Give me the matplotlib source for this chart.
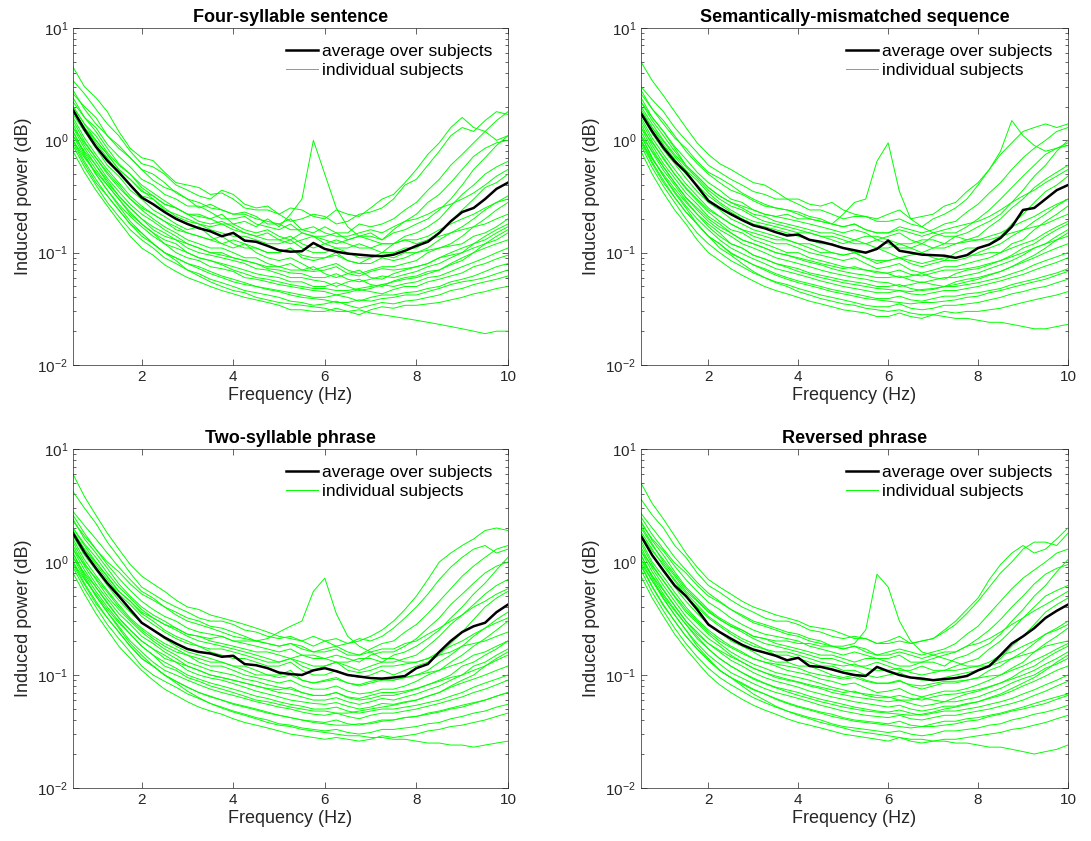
import matplotlib.pyplot as plt
from matplotlib.lines import Line2D
from matplotlib.ticker import LogLocator, NullFormatter

plt.rcParams['font.family'] = ['Liberation Sans', 'DejaVu Sans']
plt.rcParams['mathtext.fontset'] = 'custom'
plt.rcParams['mathtext.rm'] = 'Liberation Sans'

# frequency bins (Hz), 0.25 Hz steps
freqs = [0.5, 0.75, 1.0, 1.25, 1.5, 1.75, 2.0, 2.25, 2.5, 2.75, 3.0, 3.25, 3.5,
         3.75, 4.0, 4.25, 4.5, 4.75, 5.0, 5.25, 5.5, 5.75, 6.0, 6.25, 6.5, 6.75,
         7.0, 7.25, 7.5, 7.75, 8.0, 8.25, 8.5, 8.75, 9.0, 9.25, 9.5, 9.75, 10.0]

titles = ['Four-syllable sentence', 'Semantically-mismatched sequence',
          'Two-syllable phrase', 'Reversed phrase']

# average over subjects
mean_four = [1.86, 1.25, .88, .66, .52, .40, .31, .27, .23, .20, .18, .165, .155, .14,
             .15, .128, .125, .115, .105, .102, .103, .122, .108, .102, .098, .096, .094,
             .093, .096, .104, .115, .125, .15, .19, .23, .25, .30, .37, .42]
mean_sem = [1.74, 1.20, .86, .65, .52, .39, .29, .25, .22, .195, .175, .165, .152, .142,
            .145, .13, .125, .118, .11, .105, .10, .108, .128, .104, .10, .096, .095,
            .094, .090, .095, .11, .118, .135, .17, .24, .25, .30, .36, .40]
mean_two = [1.80, 1.22, .88, .65, .50, .38, .29, .25, .215, .19, .17, .16, .155, .145,
            .148, .125, .122, .115, .105, .102, .10, .11, .115, .108, .10, .097, .094,
            .093, .095, .098, .115, .125, .16, .20, .24, .27, .29, .36, .42]
mean_rev = [1.70, 1.15, .84, .62, .50, .38, .28, .24, .21, .185, .168, .158, .148, .135,
            .142, .12, .118, .112, .105, .10, .098, .118, .108, .10, .095, .093, .09,
            .092, .094, .098, .11, .12, .15, .19, .22, .26, .32, .37, .42]

# individual subjects
subj_four = [
    [4.5, 3.0, 2.4, 1.8, 1.2, .85, .70, .66, .52, .42, .40, .38, .33, .34, .30, .25, .24, .24, .22, .19, .20, .22, .21, .18, .19, .22, .23, .25, .30, .40, .45, .60, .80, 1.1, 1.3, 1.2, 1.5, 1.8, 1.7],
    [3.4, 2.6, 1.9, 1.4, 1.1, .80, .62, .58, .50, .40, .36, .32, .30, .36, .33, .27, .25, .26, .22, .25, .24, .21, .20, .24, .22, .21, .25, .30, .33, .42, .55, .75, .95, 1.3, 1.6, 1.3, 1.2, 1.0, 1.1],
    [2.6, 2.0, 1.6, 1.1, .85, .70, .55, .44, .38, .35, .30, .25, .27, .24, .22, .23, .21, .18, .18, .20, .16, .15, .17, .15, .15, .18, .17, .18, .20, .24, .28, .36, .45, .60, .75, .95, 1.2, 1.5, 1.8],
    [2.2, 1.6, 1.3, .92, .72, .58, .45, .40, .33, .30, .26, .26, .23, .20, .20, .21, .18, .17, .16, .18, .15, .14, .14, .15, .13, .14, .15, .13, .16, .19, .22, .28, .33, .42, .55, .72, .85, .95, 1.0],
    [2.0, 1.4, 1.1, .78, .60, .50, .38, .32, .27, .25, .22, .19, .18, .19, .17, .15, .14, .15, .13, .12, .13, .14, .12, .11, .11, .12, .11, .10, .12, .14, .15, .17, .20, .26, .33, .40, .50, .58, .65],
    [1.9, 1.3, .95, .70, .52, .40, .32, .30, .25, .21, .19, .18, .16, .15, .14, .14, .13, .12, .12, .13, .11, .10, .10, .11, .10, .09, .09, .10, .10, .11, .11, .13, .15, .19, .24, .30, .38, .42, .50],
    [1.7, 1.2, .85, .60, .48, .36, .30, .24, .21, .18, .16, .17, .14, .12, .13, .12, .11, .10, .10, .11, .09, .085, .09, .10, .085, .08, .08, .09, .085, .09, .10, .11, .13, .15, .17, .20, .24, .28, .32],
    [1.6, 1.05, .75, .55, .42, .32, .26, .22, .19, .16, .15, .14, .13, .12, .11, .12, .10, .09, .085, .09, .08, .07, .075, .08, .07, .065, .07, .075, .075, .08, .085, .10, .11, .12, .14, .17, .20, .24, .28],
    [1.5, .98, .70, .50, .38, .30, .24, .20, .17, .15, .13, .12, .11, .11, .10, .09, .09, .08, .075, .07, .07, .075, .065, .06, .065, .07, .06, .058, .065, .07, .075, .08, .09, .10, .11, .12, .14, .16, .18],
    [1.4, .90, .65, .46, .35, .27, .22, .19, .16, .14, .12, .11, .10, .095, .09, .085, .08, .072, .07, .066, .065, .06, .06, .065, .058, .055, .058, .062, .06, .064, .068, .075, .08, .09, .10, .11, .12, .13, .15],
    [1.3, .85, .60, .42, .32, .25, .20, .16, .14, .13, .11, .10, .095, .09, .085, .08, .072, .07, .065, .06, .06, .057, .055, .05, .055, .058, .052, .05, .056, .06, .062, .068, .07, .078, .085, .10, .11, .12, .13],
    [1.2, .78, .55, .40, .30, .22, .18, .15, .13, .12, .10, .09, .085, .08, .075, .07, .065, .062, .06, .055, .055, .05, .05, .054, .05, .046, .048, .052, .05, .053, .055, .06, .062, .068, .075, .082, .09, .10, .11],
    [1.1, .72, .50, .36, .27, .21, .17, .14, .12, .10, .09, .085, .075, .072, .068, .06, .058, .055, .052, .05, .048, .046, .045, .042, .044, .047, .045, .043, .047, .05, .05, .055, .058, .062, .066, .075, .08, .088, .095],
    [1.0, .65, .45, .32, .24, .18, .15, .12, .10, .09, .08, .075, .068, .062, .058, .054, .05, .048, .046, .044, .042, .04, .04, .042, .04, .037, .04, .042, .042, .044, .045, .048, .05, .055, .058, .062, .068, .075, .08],
    [.90, .58, .40, .28, .21, .16, .13, .11, .09, .08, .07, .065, .058, .054, .05, .046, .044, .042, .04, .037, .036, .034, .035, .037, .034, .032, .034, .036, .035, .037, .038, .04, .042, .046, .048, .052, .055, .058, .062],
    [.80, .52, .36, .26, .19, .14, .11, .095, .078, .068, .06, .055, .05, .046, .043, .04, .038, .036, .034, .031, .031, .03, .03, .032, .03, .028, .031, .033, .032, .034, .034, .035, .036, .038, .04, .043, .045, .048, .05],
    [1.2, .75, .50, .36, .26, .19, .15, .12, .10, .085, .07, .062, .055, .05, .046, .044, .04, .038, .036, .035, .034, .033, .032, .03, .03, .031, .029, .028, .027, .026, .025, .024, .023, .022, .021, .02, .019, .02, .02],
    [2.8, 1.9, 1.4, 1.1, .90, .70, .55, .50, .42, .34, .30, .28, .25, .24, .22, .22, .20, .19, .18, .16, .16, .17, .15, .14, .14, .15, .16, .15, .17, .19, .20, .22, .25, .27, .30, .34, .40, .48, .55],
    [1.8, 1.3, 1.0, .75, .55, .45, .36, .30, .24, .22, .20, .18, .17, .18, .16, .15, .14, .13, .13, .14, .12, .11, .12, .13, .12, .11, .11, .12, .12, .13, .13, .14, .16, .18, .20, .22, .25, .28, .30],
    [1.3, .95, .70, .52, .40, .30, .25, .22, .19, .17, .15, .14, .13, .14, .12, .11, .11, .10, .10, .11, .095, .09, .09, .095, .085, .08, .09, .095, .09, .10, .10, .105, .11, .115, .12, .14, .15, .17, .20],
    [1.1, .80, .60, .44, .32, .25, .20, .17, .15, .13, .12, .11, .10, .10, .09, .085, .08, .075, .075, .08, .07, .068, .07, .075, .065, .062, .068, .072, .07, .072, .075, .08, .09, .095, .10, .12, .13, .15, .17],
    [2.4, 1.6, 1.2, .85, .62, .50, .40, .34, .29, .25, .22, .22, .20, .18, .18, .16, .15, .16, .14, .13, .15, .14, .13, .12, .13, .14, .14, .13, .15, .16, .18, .20, .24, .30, .40, .55, .70, .90, 1.1],
    [1.0, .70, .52, .40, .30, .23, .18, .15, .12, .11, .10, .09, .085, .078, .07, .065, .06, .058, .055, .052, .05, .048, .048, .046, .046, .048, .05, .052, .055, .058, .06, .065, .07, .08, .09, .10, .12, .14, .16],
    [.95, .62, .42, .32, .24, .18, .14, .12, .10, .09, .08, .072, .065, .06, .055, .052, .05, .047, .045, .042, .04, .039, .038, .036, .036, .038, .037, .039, .04, .042, .042, .045, .048, .052, .055, .057, .06, .065, .07],
]
subj_sem = [
    [5.0, 3.4, 2.5, 1.8, 1.3, .95, .75, .62, .55, .48, .42, .40, .35, .30, .30, .27, .26, .28, .24, .22, .21, .20, .22, .24, .20, .21, .22, .26, .28, .35, .42, .55, .75, .95, 1.2, 1.3, 1.4, 1.3, 1.4],
    [3.0, 2.3, 1.8, 1.3, 1.0, .78, .60, .52, .45, .40, .35, .33, .30, .30, .27, .24, .24, .22, .20, .21, .21, .19, .19, .20, .18, .17, .20, .22, .25, .30, .40, .55, .80, 1.5, 1.1, .90, .80, .85, .90],
    [2.6, 1.9, 1.5, 1.1, .80, .62, .50, .42, .36, .33, .29, .26, .25, .24, .23, .21, .20, .18, .17, .18, .16, .15, .15, .17, .16, .15, .16, .18, .19, .23, .27, .34, .42, .55, .70, .85, 1.0, 1.2, 1.3],
    [2.2, 1.6, 1.2, .88, .68, .52, .42, .36, .30, .28, .24, .22, .21, .20, .19, .18, .17, .16, .15, .16, .15, .13, .14, .15, .13, .12, .14, .15, .15, .17, .20, .24, .30, .38, .48, .60, .75, .85, .95],
    [2.0, 1.4, 1.0, .75, .58, .46, .36, .30, .26, .24, .21, .19, .18, .17, .16, .15, .14, .14, .13, .12, .12, .13, .12, .11, .11, .12, .11, .11, .12, .13, .14, .17, .20, .25, .30, .38, .45, .52, .60],
    [1.9, 1.3, .92, .68, .50, .40, .32, .27, .23, .20, .18, .17, .16, .15, .14, .13, .12, .12, .11, .10, .10, .11, .10, .09, .095, .10, .09, .085, .10, .11, .11, .12, .14, .18, .22, .28, .35, .40, .48],
    [1.7, 1.15, .82, .62, .46, .35, .28, .24, .20, .18, .16, .15, .14, .13, .12, .12, .11, .10, .095, .10, .09, .08, .085, .09, .08, .075, .08, .085, .085, .09, .10, .11, .12, .14, .16, .19, .22, .26, .30],
    [1.6, 1.05, .75, .55, .41, .32, .25, .21, .18, .16, .14, .13, .12, .12, .11, .10, .095, .09, .085, .09, .08, .072, .075, .08, .07, .066, .07, .075, .075, .08, .085, .09, .10, .12, .13, .16, .19, .22, .26],
    [1.5, .98, .68, .50, .37, .29, .23, .19, .16, .15, .13, .12, .11, .10, .10, .09, .085, .08, .075, .072, .07, .068, .065, .06, .062, .065, .06, .058, .065, .07, .072, .078, .085, .095, .11, .12, .14, .16, .18],
    [1.4, .90, .62, .46, .34, .27, .21, .18, .15, .13, .12, .11, .10, .095, .088, .082, .078, .072, .068, .065, .063, .06, .06, .062, .057, .054, .057, .06, .06, .063, .066, .072, .078, .085, .095, .11, .12, .13, .14],
    [1.3, .84, .58, .42, .31, .24, .19, .16, .14, .12, .11, .10, .09, .085, .08, .075, .07, .066, .063, .06, .058, .055, .054, .05, .052, .055, .052, .05, .055, .058, .06, .064, .068, .075, .082, .09, .10, .11, .12],
    [1.2, .78, .54, .40, .29, .22, .18, .15, .12, .11, .095, .088, .08, .076, .072, .066, .063, .06, .057, .055, .053, .05, .05, .052, .048, .046, .047, .05, .05, .052, .054, .057, .06, .065, .07, .078, .085, .092, .10],
    [1.1, .70, .48, .35, .26, .20, .16, .13, .11, .098, .088, .08, .072, .068, .064, .06, .056, .053, .05, .048, .046, .044, .044, .046, .043, .042, .044, .046, .046, .048, .05, .053, .056, .06, .064, .07, .076, .082, .09],
    [1.0, .64, .44, .31, .23, .18, .14, .12, .10, .088, .078, .072, .065, .06, .056, .053, .05, .047, .045, .043, .041, .039, .039, .041, .038, .037, .039, .041, .041, .043, .044, .046, .048, .052, .055, .058, .062, .066, .072],
    [.90, .57, .39, .28, .20, .15, .12, .10, .085, .075, .066, .06, .055, .052, .048, .045, .042, .04, .038, .036, .034, .033, .033, .035, .032, .031, .032, .034, .034, .035, .036, .038, .04, .043, .045, .048, .05, .054, .058],
    [.80, .50, .34, .24, .18, .13, .10, .085, .072, .063, .056, .05, .046, .043, .04, .037, .035, .033, .031, .03, .029, .027, .027, .029, .027, .026, .028, .03, .029, .03, .03, .031, .032, .034, .036, .038, .04, .042, .045],
    [1.1, .70, .48, .34, .25, .18, .14, .11, .095, .08, .068, .06, .054, .05, .045, .042, .039, .037, .035, .034, .032, .031, .03, .031, .029, .028, .028, .027, .026, .026, .025, .024, .024, .023, .022, .021, .021, .022, .023],
    [2.8, 1.9, 1.4, 1.05, .85, .65, .52, .46, .40, .34, .30, .27, .25, .24, .22, .20, .19, .18, .17, .18, .16, .15, .15, .16, .15, .14, .15, .16, .17, .18, .19, .21, .24, .28, .32, .36, .42, .48, .55],
    [1.8, 1.3, .98, .72, .54, .44, .34, .28, .24, .21, .19, .18, .17, .16, .15, .15, .14, .13, .12, .13, .12, .11, .11, .12, .11, .10, .11, .12, .12, .125, .13, .14, .15, .17, .19, .21, .24, .27, .30],
    [1.3, .95, .70, .50, .38, .30, .24, .21, .18, .16, .15, .14, .13, .13, .12, .11, .10, .10, .095, .10, .09, .085, .085, .09, .085, .08, .085, .09, .09, .095, .095, .10, .10, .11, .12, .13, .15, .17, .19],
    [1.1, .80, .58, .42, .31, .25, .20, .17, .15, .13, .12, .11, .10, .095, .09, .085, .08, .076, .072, .075, .07, .066, .066, .07, .064, .062, .066, .07, .07, .072, .075, .08, .085, .092, .10, .11, .12, .14, .16],
    [2.4, 1.6, 1.2, .85, .60, .48, .38, .32, .28, .25, .22, .21, .19, .18, .17, .16, .15, .15, .14, .13, .14, .14, .13, .12, .12, .13, .13, .12, .14, .15, .17, .19, .22, .28, .36, .48, .60, .80, 1.0],
    [1.0, .68, .50, .37, .28, .22, .17, .14, .12, .11, .095, .088, .08, .074, .068, .064, .06, .057, .054, .052, .05, .048, .047, .046, .045, .047, .048, .05, .052, .055, .058, .063, .068, .075, .085, .095, .11, .13, .15],
    [.95, .62, .42, .31, .23, .18, .14, .12, .098, .088, .078, .07, .063, .058, .054, .051, .048, .045, .043, .041, .039, .038, .037, .036, .035, .036, .036, .037, .038, .04, .041, .044, .046, .049, .052, .055, .058, .063, .068],
]
subj_two = [
    [6.0, 3.8, 2.6, 1.8, 1.3, .95, .75, .64, .55, .46, .40, .38, .34, .32, .30, .28, .26, .24, .22, .21, .20, .22, .20, .18, .19, .21, .20, .22, .26, .32, .40, .52, .70, .90, 1.1, 1.3, 1.4, 1.2, 1.3],
    [4.2, 3.0, 2.2, 1.5, 1.1, .80, .60, .52, .45, .40, .36, .32, .30, .30, .28, .25, .24, .22, .21, .22, .20, .18, .20, .21, .19, .20, .22, .25, .30, .38, .50, .70, 1.0, 1.2, 1.4, 1.6, 1.9, 2.0, 1.9],
    [2.8, 2.1, 1.6, 1.2, .90, .70, .55, .48, .40, .36, .32, .30, .27, .26, .24, .22, .20, .19, .18, .19, .18, .16, .17, .18, .16, .15, .17, .19, .20, .24, .28, .35, .45, .58, .75, .92, 1.1, 1.3, 1.4],
    [2.3, 1.7, 1.3, .95, .72, .56, .45, .38, .33, .30, .26, .24, .23, .22, .20, .19, .18, .17, .16, .17, .15, .14, .14, .15, .14, .13, .15, .16, .16, .18, .21, .26, .32, .42, .52, .65, .80, .92, 1.0],
    [2.0, 1.45, 1.1, .80, .60, .48, .38, .32, .28, .25, .22, .20, .19, .18, .17, .16, .15, .14, .13, .14, .13, .12, .12, .13, .12, .11, .12, .13, .13, .14, .15, .18, .22, .28, .34, .42, .52, .62, .70],
    [1.9, 1.3, .95, .70, .52, .42, .33, .28, .24, .21, .19, .18, .16, .15, .14, .14, .13, .12, .12, .13, .11, .10, .10, .11, .10, .095, .10, .11, .10, .11, .12, .13, .15, .19, .24, .31, .40, .48, .55],
    [1.7, 1.15, .85, .62, .46, .36, .29, .25, .21, .18, .16, .15, .14, .13, .12, .12, .11, .10, .10, .11, .09, .085, .09, .095, .085, .08, .085, .09, .09, .095, .10, .11, .13, .15, .18, .22, .26, .31, .36],
    [1.6, 1.05, .76, .56, .42, .32, .26, .22, .19, .17, .15, .13, .12, .12, .11, .10, .095, .09, .085, .09, .08, .075, .075, .08, .072, .068, .07, .075, .075, .08, .088, .10, .11, .13, .15, .18, .21, .25, .30],
    [1.5, .98, .70, .50, .38, .30, .24, .20, .17, .15, .13, .12, .11, .105, .10, .092, .088, .082, .078, .075, .07, .066, .066, .07, .063, .06, .062, .066, .066, .07, .075, .082, .09, .10, .12, .13, .15, .17, .20],
    [1.4, .92, .64, .47, .35, .28, .22, .19, .16, .14, .12, .11, .10, .095, .09, .085, .08, .075, .07, .068, .064, .06, .06, .063, .058, .055, .058, .062, .06, .064, .068, .074, .08, .09, .10, .11, .12, .135, .15],
    [1.3, .85, .60, .43, .32, .25, .20, .17, .14, .13, .11, .10, .094, .09, .084, .078, .072, .068, .064, .06, .058, .056, .055, .057, .053, .05, .052, .056, .055, .058, .06, .065, .07, .078, .085, .092, .10, .11, .12],
    [1.2, .78, .55, .40, .30, .23, .18, .15, .13, .115, .10, .092, .085, .08, .075, .07, .065, .062, .058, .055, .053, .05, .05, .052, .048, .046, .048, .05, .05, .052, .054, .057, .06, .065, .07, .078, .085, .092, .10],
    [1.1, .72, .50, .36, .27, .20, .16, .13, .11, .10, .09, .082, .075, .07, .066, .062, .058, .055, .052, .05, .047, .045, .044, .046, .043, .041, .044, .046, .046, .048, .05, .053, .056, .06, .064, .07, .075, .082, .09],
    [1.0, .65, .45, .32, .24, .18, .14, .12, .10, .088, .078, .07, .065, .06, .056, .053, .05, .047, .044, .042, .04, .039, .038, .04, .037, .036, .038, .04, .04, .042, .043, .045, .047, .05, .052, .056, .06, .065, .07],
    [.90, .58, .40, .28, .21, .16, .12, .10, .088, .078, .068, .062, .056, .052, .048, .045, .042, .04, .037, .036, .034, .033, .032, .033, .031, .03, .031, .033, .033, .034, .035, .037, .038, .041, .043, .046, .048, .052, .055],
    [.80, .52, .35, .25, .18, .14, .11, .09, .075, .066, .058, .052, .048, .045, .041, .038, .036, .034, .032, .03, .029, .028, .027, .028, .027, .026, .027, .029, .028, .029, .03, .032, .033, .035, .036, .038, .04, .043, .046],
    [1.2, .75, .50, .36, .26, .19, .15, .12, .10, .085, .072, .063, .056, .051, .047, .044, .041, .038, .036, .035, .033, .032, .031, .03, .029, .029, .028, .028, .027, .027, .026, .025, .025, .024, .024, .023, .024, .025, .026],
    [2.6, 1.8, 1.3, 1.0, .82, .64, .52, .46, .40, .34, .30, .28, .26, .24, .22, .21, .20, .19, .18, .19, .17, .16, .16, .17, .15, .15, .16, .17, .17, .19, .20, .23, .26, .30, .34, .40, .45, .52, .58],
    [1.8, 1.3, 1.0, .74, .55, .45, .35, .30, .25, .22, .20, .18, .17, .17, .16, .15, .14, .13, .13, .14, .12, .11, .12, .13, .11, .105, .11, .12, .12, .125, .13, .14, .16, .18, .20, .23, .26, .29, .32],
    [1.3, .95, .72, .54, .40, .31, .25, .21, .18, .16, .15, .14, .13, .13, .12, .11, .10, .10, .095, .10, .09, .085, .088, .092, .085, .082, .088, .092, .09, .095, .10, .105, .11, .12, .13, .15, .16, .18, .20],
    [1.1, .80, .60, .44, .32, .25, .20, .17, .15, .13, .12, .11, .10, .095, .09, .085, .08, .076, .074, .078, .07, .066, .066, .07, .064, .062, .066, .07, .07, .072, .076, .082, .088, .095, .10, .12, .13, .15, .17],
    [2.4, 1.6, 1.2, .88, .64, .50, .40, .34, .30, .26, .23, .22, .20, .19, .18, .17, .16, .16, .15, .14, .15, .15, .14, .13, .13, .14, .14, .13, .15, .16, .18, .21, .25, .32, .40, .52, .65, .85, 1.1],
    [1.0, .70, .52, .38, .29, .23, .18, .15, .12, .11, .095, .088, .08, .075, .07, .065, .06, .058, .055, .052, .05, .048, .048, .046, .046, .048, .05, .052, .054, .057, .06, .065, .07, .08, .09, .10, .12, .14, .16],
    [.95, .63, .43, .32, .24, .18, .14, .12, .10, .088, .078, .07, .064, .06, .055, .052, .049, .046, .044, .042, .04, .038, .037, .036, .036, .037, .037, .039, .04, .042, .043, .046, .048, .051, .054, .057, .06, .065, .07],
]
subj_rev = [
    [5.0, 3.3, 2.4, 1.7, 1.2, .90, .70, .60, .52, .45, .40, .37, .34, .32, .30, .27, .26, .25, .23, .21, .21, .19, .20, .22, .19, .20, .21, .24, .28, .35, .45, .60, .80, 1.0, 1.3, 1.5, 1.5, 1.4, 1.8],
    [3.6, 2.6, 2.0, 1.4, 1.1, .80, .62, .54, .46, .40, .36, .32, .30, .30, .28, .25, .24, .22, .21, .22, .21, .19, .19, .20, .19, .20, .21, .25, .30, .38, .48, .70, .95, 1.2, 1.4, 1.2, 1.3, 1.6, 2.0],
    [2.7, 2.0, 1.5, 1.1, .85, .66, .53, .45, .38, .34, .30, .28, .26, .24, .23, .21, .20, .18, .17, .18, .17, .15, .16, .17, .16, .15, .16, .17, .19, .23, .27, .35, .45, .58, .72, .85, 1.0, 1.2, 1.3],
    [2.2, 1.6, 1.25, .92, .70, .55, .44, .38, .32, .28, .25, .23, .22, .21, .20, .18, .17, .16, .15, .16, .15, .14, .14, .15, .13, .13, .14, .15, .16, .18, .21, .25, .31, .40, .50, .64, .78, .88, .95],
    [2.0, 1.4, 1.05, .78, .58, .46, .37, .31, .27, .24, .21, .19, .18, .17, .16, .15, .14, .14, .13, .12, .12, .13, .12, .11, .11, .12, .11, .11, .12, .13, .14, .17, .20, .25, .32, .40, .50, .56, .62],
    [1.85, 1.3, .92, .68, .50, .40, .32, .27, .23, .20, .18, .17, .15, .15, .14, .13, .12, .12, .11, .11, .10, .095, .10, .105, .095, .09, .09, .095, .10, .105, .11, .12, .14, .18, .22, .28, .36, .42, .48],
    [1.7, 1.15, .82, .60, .45, .35, .28, .24, .20, .18, .16, .14, .13, .13, .12, .12, .11, .10, .095, .10, .09, .085, .085, .09, .08, .075, .08, .085, .085, .09, .095, .11, .12, .14, .16, .19, .23, .26, .30],
    [1.55, 1.0, .74, .54, .40, .31, .25, .21, .18, .16, .14, .13, .12, .11, .105, .10, .092, .088, .082, .085, .077, .07, .072, .076, .068, .064, .068, .072, .072, .076, .082, .09, .10, .115, .13, .16, .19, .22, .26],
    [1.45, .95, .68, .49, .36, .29, .23, .19, .16, .14, .125, .115, .105, .10, .095, .09, .084, .078, .074, .07, .068, .066, .064, .06, .06, .063, .06, .058, .063, .068, .072, .078, .085, .095, .11, .12, .14, .16, .18],
    [1.35, .88, .62, .45, .33, .26, .21, .18, .15, .13, .115, .105, .095, .09, .086, .08, .076, .07, .067, .064, .062, .06, .058, .06, .056, .053, .055, .058, .058, .061, .064, .07, .076, .085, .093, .10, .115, .125, .14],
    [1.25, .82, .57, .41, .30, .23, .19, .16, .135, .12, .105, .095, .088, .083, .078, .072, .068, .064, .061, .058, .056, .054, .052, .054, .05, .048, .05, .053, .053, .056, .058, .062, .066, .072, .08, .088, .098, .11, .12],
    [1.15, .75, .52, .38, .28, .21, .17, .14, .12, .105, .094, .085, .078, .074, .07, .065, .061, .058, .055, .052, .05, .048, .047, .049, .046, .044, .046, .048, .048, .05, .052, .055, .058, .062, .068, .074, .082, .09, .10],
    [1.05, .68, .47, .34, .25, .19, .15, .125, .105, .094, .084, .076, .07, .066, .062, .058, .054, .051, .048, .046, .044, .043, .042, .044, .041, .04, .042, .044, .044, .046, .048, .05, .053, .056, .06, .066, .072, .08, .088],
    [.95, .61, .42, .30, .22, .17, .135, .11, .095, .083, .074, .068, .062, .057, .053, .05, .047, .045, .042, .04, .039, .038, .037, .039, .036, .035, .037, .039, .039, .041, .042, .044, .046, .049, .052, .056, .06, .064, .068],
    [.85, .54, .37, .26, .19, .145, .115, .095, .082, .072, .063, .057, .052, .048, .045, .042, .04, .037, .035, .034, .033, .032, .031, .032, .03, .029, .03, .032, .032, .033, .034, .036, .037, .04, .042, .045, .047, .05, .054],
    [.75, .48, .33, .23, .17, .13, .10, .082, .07, .061, .054, .049, .045, .041, .038, .036, .034, .032, .03, .029, .028, .027, .026, .028, .026, .025, .026, .027, .027, .028, .029, .03, .031, .033, .034, .036, .038, .041, .044],
    [1.15, .72, .48, .34, .25, .18, .14, .11, .095, .08, .068, .06, .053, .048, .044, .041, .038, .036, .034, .032, .031, .03, .029, .028, .027, .027, .026, .026, .025, .025, .024, .023, .023, .022, .021, .02, .021, .022, .024],
    [2.5, 1.75, 1.3, .98, .80, .62, .50, .44, .38, .33, .29, .27, .25, .23, .22, .20, .19, .18, .17, .18, .16, .15, .15, .16, .15, .14, .15, .16, .16, .18, .19, .21, .24, .28, .32, .37, .42, .48, .55],
    [1.75, 1.25, .96, .70, .53, .42, .33, .28, .24, .21, .19, .17, .16, .16, .15, .14, .13, .125, .12, .125, .115, .11, .11, .115, .105, .10, .105, .11, .11, .115, .12, .13, .15, .16, .18, .20, .23, .25, .28],
    [1.25, .92, .68, .50, .38, .30, .24, .20, .175, .155, .14, .13, .125, .12, .115, .105, .10, .096, .092, .095, .088, .084, .084, .088, .082, .08, .084, .088, .088, .09, .094, .098, .10, .11, .12, .135, .15, .17, .19],
    [1.05, .76, .56, .41, .30, .24, .19, .165, .145, .13, .115, .105, .098, .092, .087, .082, .078, .074, .07, .072, .066, .063, .063, .066, .062, .06, .064, .067, .068, .071, .074, .079, .085, .092, .10, .11, .125, .14, .16],
    [2.3, 1.55, 1.15, .82, .60, .48, .38, .32, .28, .25, .22, .21, .19, .18, .17, .16, .15, .15, .14, .13, .14, .14, .13, .12, .12, .13, .13, .12, .14, .15, .17, .19, .23, .30, .38, .50, .62, .82, 1.05],
    [.98, .68, .50, .37, .28, .22, .17, .14, .12, .105, .092, .084, .077, .071, .066, .062, .058, .055, .052, .05, .048, .047, .046, .045, .044, .045, .047, .05, .052, .055, .058, .063, .068, .076, .085, .095, .11, .13, .15],
    [.92, .60, .41, .30, .22, .17, .135, .11, .095, .085, .075, .068, .061, .056, .052, .049, .046, .043, .041, .039, .038, .037, .036, .035, .034, .035, .035, .036, .037, .039, .04, .043, .045, .048, .05, .053, .056, .061, .066],
]

# the one subject with a peak near 6 Hz
peak_four = [2.0, 1.4, 1.0, .75, .55, .45, .35, .32, .27, .25, .22, .21, .20, .22, .18, .19, .17, .20, .17, .22,
             .30, 1.0, .50, .25, .17, .14, .13, .12, .12, .13, .12, .13, .14, .15, .16, .17, .18, .20, .22]
peak_sem = [2.2, 1.5, 1.1, .80, .60, .48, .38, .32, .28, .26, .24, .22, .21, .22, .20, .20, .19, .18, .22, .28,
            .30, .65, .95, .35, .20, .17, .15, .14, .14, .13, .13, .13, .14, .15, .16, .17, .18, .20, .22]
peak_two = [2.0, 1.4, 1.0, .75, .55, .45, .36, .32, .28, .26, .23, .22, .21, .22, .20, .20, .20, .21, .24, .27,
            .30, .55, .72, .35, .22, .18, .16, .14, .14, .13, .13, .14, .15, .16, .18, .19, .20, .22, .24]
peak_rev = [2.1, 1.45, 1.0, .75, .55, .45, .36, .31, .27, .25, .22, .21, .20, .20, .19, .19, .18, .18, .18, .19,
            .25, .78, .60, .30, .20, .16, .15, .14, .13, .12, .12, .12, .13, .14, .15, .16, .18, .19, .20]

means = [mean_four, mean_sem, mean_two, mean_rev]
subjects = [subj_four, subj_sem, subj_two, subj_rev]
peaks = [peak_four, peak_sem, peak_two, peak_rev]

# axes boxes in figure fractions
positions = [
    [0.0669, 0.566, 0.3987, 0.4007],
    [0.5875, 0.566, 0.3914, 0.4007],
    [0.0669, 0.063, 0.3987, 0.4031],
    [0.5875, 0.063, 0.3914, 0.4031],
]

GREEN = '#00ff00'
TXT = '#262626'

fig = plt.figure(figsize=(10.91, 8.41), dpi=100)

for i in range(4):
    ax = fig.add_axes(positions[i])
    for s in subjects[i]:
        ax.plot(freqs, s, color=GREEN, lw=0.7)
    ax.plot(freqs, peaks[i], color=GREEN, lw=0.7)
    ax.plot(freqs, means[i], color='black', lw=1.8)

    ax.set_yscale('log')
    ax.set_xlim(0.5, 10)
    ax.set_ylim(0.01, 10)
    ax.set_xticks([2, 4, 6, 8, 10])
    ax.set_xticklabels(['2', '4', '6', '8', '10'])
    ax.yaxis.set_major_locator(LogLocator(base=10, numticks=10))
    ax.yaxis.set_minor_locator(LogLocator(base=10, subs=range(2, 10), numticks=10))
    ax.yaxis.set_minor_formatter(NullFormatter())
    ax.tick_params(which='both', direction='in', top=True, right=True,
                   colors=TXT, labelsize=11, width=0.5)
    ax.tick_params(which='major', length=4.5)
    ax.tick_params(which='minor', length=2.5)
    for sp in ax.spines.values():
        sp.set_color(TXT)
        sp.set_linewidth(0.5)

    ax.set_title(titles[i], fontsize=13, fontweight='bold', pad=4)
    ax.set_xlabel('Frequency (Hz)', fontsize=13, color=TXT, labelpad=2)
    ax.set_ylabel('Induced power (dB)', fontsize=13, color=TXT, labelpad=4)

    handles = [Line2D([], [], color='black', lw=1.8),
               Line2D([], [], color=GREEN, lw=0.7)]
    ax.legend(handles, ['average over subjects', 'individual subjects'],
              loc='upper right', frameon=False, fontsize=12.5,
              handlelength=1.8, handletextpad=0.25, labelspacing=0.25,
              borderaxespad=0.5)

fig.savefig('out.png', dpi=100)
